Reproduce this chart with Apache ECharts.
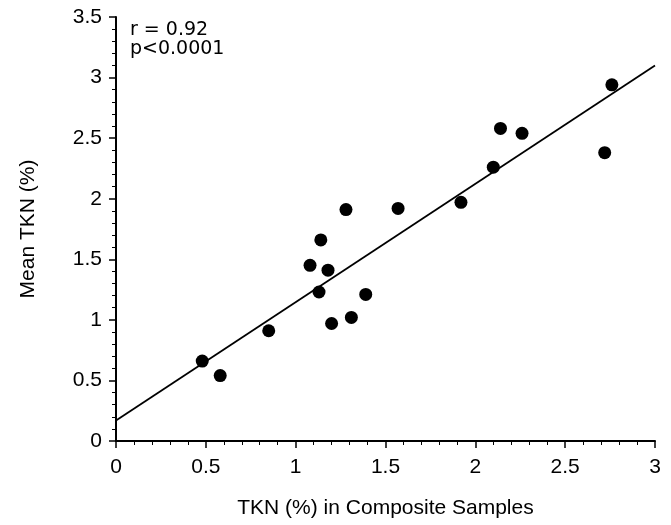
<!DOCTYPE html>
<html><head><meta charset="utf-8">
<script src="https://cdn.jsdelivr.net/npm/echarts@6/dist/echarts.min.js"></script>
<style>html,body{margin:0;padding:0;background:#fff}#c{width:671px;height:525px}</style>
</head><body><div id="c"></div>
<script>
const compositeTKN = [0.48, 0.58, 0.85, 1.08, 1.14, 1.13, 1.18, 1.20, 1.28, 1.31, 1.39, 1.57, 1.92, 2.10, 2.14, 2.26, 2.72, 2.76];
const meanTKN      = [0.66, 0.54, 0.91, 1.45, 1.66, 1.23, 1.41, 0.97, 1.91, 1.02, 1.21, 1.92, 1.97, 2.26, 2.58, 2.54, 2.38, 2.94];
const fitX = [0, 3];
const fitY = [0.17, 3.10];
const statsText = ['r = 0.92', 'p<0.0001'];

const chart = echarts.init(document.getElementById('c'), null, {renderer: 'canvas'});
const font = 'Liberation Sans, Arial, sans-serif';
const axisCommon = {
  axisLine: {show: true, onZero: false, lineStyle: {color: '#000', width: 2}},
  axisTick: {show: true, inside: false, length: 7, lineStyle: {color: '#000', width: 1.5}},
  minorTick: {show: true, splitNumber: 5, length: 4, lineStyle: {color: '#000', width: 1}},
  splitLine: {show: false},
  axisLabel: {color: '#000', fontSize: 21, fontFamily: font, margin: 14},
  nameTextStyle: {color: '#000', fontSize: 21, fontFamily: font}
};
chart.setOption({
  animation: false,
  backgroundColor: '#fff',
  grid: {left: 116, right: 16, top: 17, bottom: 84},
  xAxis: Object.assign({}, axisCommon, {
    type: 'value', min: 0, max: 3, interval: 0.5,
    name: 'TKN (%) in Composite Samples', nameLocation: 'middle', nameGap: 57,
    axisLabel: Object.assign({}, axisCommon.axisLabel, {margin: 16})
  }),
  yAxis: Object.assign({}, axisCommon, {
    type: 'value', min: 0, max: 3.5, interval: 0.5,
    name: 'Mean TKN (%)', nameLocation: 'middle', nameGap: 77
  }),
  graphic: [{
    type: 'text', left: 130, top: 21,
    style: {text: statsText.join('\n'), fill: '#000', font: 'normal 19px DejaVu Sans', lineHeight: 18.5}
  }],
  series: [
    {type: 'line', data: fitX.map((x, i) => [x, fitY[i]]), showSymbol: false,
     lineStyle: {color: '#000', width: 1.8}, silent: true},
    {type: 'scatter', data: compositeTKN.map((x, i) => [x, meanTKN[i]]),
     symbol: 'circle', symbolSize: 13, itemStyle: {color: '#000', opacity: 1}}
  ]
});
</script></body></html>
